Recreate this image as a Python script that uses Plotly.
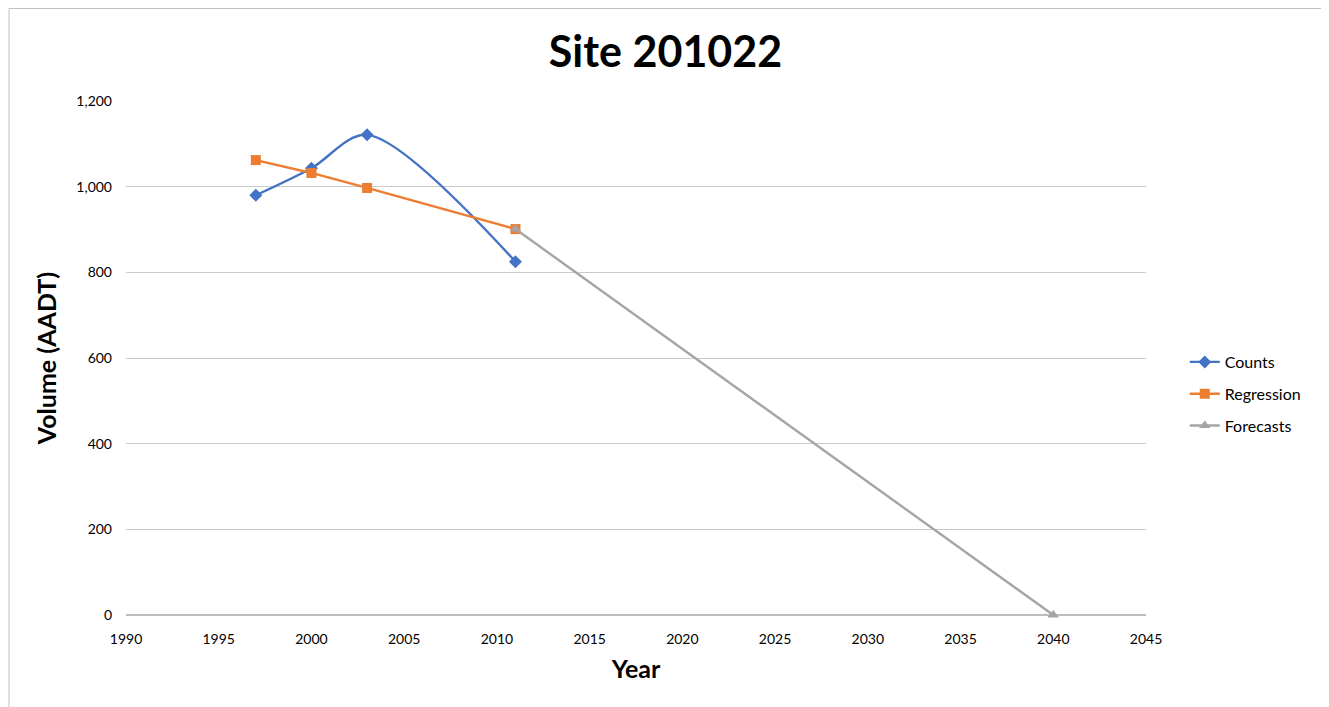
import plotly.graph_objects as go

count_years = [1997, 2000, 2003, 2011]
count_values = [980, 1043, 1121, 825]
reg_years = [1997, 2000, 2003, 2011]
reg_values = [1062, 1032, 997, 901]
fc_years = [2011, 2040]
fc_values = [901, 0]

FONT = "Lato, 'Open Sans', sans-serif"

fig = go.Figure()
fig.add_trace(go.Scatter(x=count_years, y=count_values, name="Counts", mode="lines+markers",
                         line=dict(color="#4472C4", width=2.4, shape="spline", smoothing=0.9),
                         marker=dict(symbol="diamond", size=10, color="#4472C4"),
                         legendgroup="a"))
fig.add_trace(go.Scatter(x=reg_years, y=reg_values, name="Regression", mode="lines+markers",
                         line=dict(color="#ED7D31", width=2.4),
                         marker=dict(symbol="square", size=10, color="#ED7D31"),
                         legendgroup="b"))
fig.add_trace(go.Scatter(x=fc_years, y=fc_values, name="Forecasts", mode="lines+markers",
                         line=dict(color="#A5A5A5", width=2.4),
                         marker=dict(symbol="triangle-up", size=10, color="#A5A5A5"),
                         legendgroup="c", cliponaxis=False))

fig.update_layout(
    width=1329, height=707,
    margin=dict(l=118, r=191, t=93, b=100),
    paper_bgcolor="white", plot_bgcolor="white",
    font=dict(family=FONT, size=14, color="#000000"),
    title=dict(text="<b>Site 201022</b>", x=0.5 - 7 / 1329, xanchor="center", y=0.938, yanchor="middle",
               font=dict(size=43, family=FONT, color="#000000")),
    showlegend=True,
    legend=dict(x=1.038, xanchor="left", y=0.43, yanchor="middle",
                font=dict(size=16, family=FONT), tracegroupgap=8,
                bgcolor="rgba(0,0,0,0)"),
    xaxis=dict(range=[1990, 2045], tickmode="linear", tick0=1990, dtick=5,
               showgrid=False, zeroline=False, showline=False,
               ticks="", ticklabelstandoff=14, tickfont=dict(size=14, family=FONT),
               title=dict(text="<b>Year</b>", font=dict(size=25, family=FONT), standoff=14)),
    yaxis=dict(range=[0, 1200], tickmode="linear", tick0=0, dtick=200,
               tickformat=",d", showgrid=True, gridcolor="#CACACA", gridwidth=1,
               zeroline=True, zerolinecolor="#BDBDBD", zerolinewidth=1.5,
               showline=False, ticks="", ticklabelstandoff=13,
               tickfont=dict(size=14, family=FONT),
               title=dict(text="<b>Volume (AADT)</b>", font=dict(size=25, family=FONT), standoff=12)),
    shapes=[dict(type="rect", xref="paper", yref="paper",
                 x0=(1 - 118) / 1020, x1=(1314 - 118) / 1020,
                 y0=-0.3, y1=607 / 514 - 0.001,
                 line=dict(color="#BFBFBF", width=1), fillcolor="rgba(0,0,0,0)", layer="below")],
)

fig.write_html("out.html")
